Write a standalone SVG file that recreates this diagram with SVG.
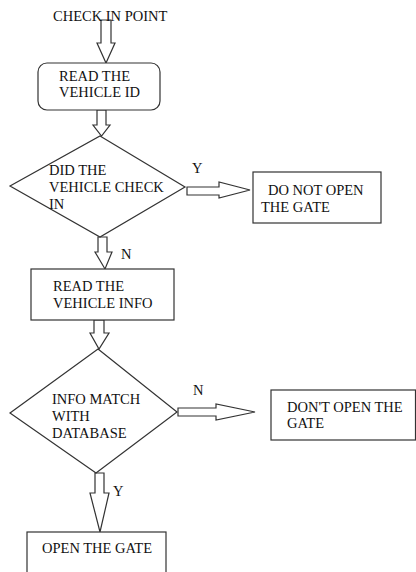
<svg xmlns="http://www.w3.org/2000/svg" width="416" height="572" viewBox="0 0 416 572">
<style>
text{font-family:"Liberation Serif","Times New Roman",serif;font-size:14.5px;fill:#111;}
.s{fill:#fff;stroke:#333;stroke-width:1.2;}
.a{fill:#fff;stroke:#333;stroke-width:1.2;stroke-linejoin:miter;}
</style>
<rect width="416" height="572" fill="#fff"/>
<g id="connectors">
<polygon class="a" points="101,20 111,20 111,43 115,43 106,63 97,43 101,43"/>
<polygon class="a" points="97,110 106,110 106,125 110,125 101.5,136 93,125 97,125"/>
<polygon class="a" points="187,187 219,187 219,182 250,190 219,198 219,195 187,195"/>
<polygon class="a" points="98,237 107,237 107,252 112,252 105,269 95,252 98,252"/>
<polygon class="a" points="94,320 104,320 104,333 109,333 99,349 90,333 94,333"/>
<polygon class="a" points="178,408 216,408 216,404 255,412 216,420 216,416 178,416"/>
<polygon class="a" points="95,473 104,473 104,493 109,493 100,532 90,493 95,493"/>
</g>
<g id="start"><text x="53" y="21">CHECK IN POINT</text></g>
<g id="read-id">
<rect class="s" x="38" y="63" width="122" height="47" rx="9"/>
<text x="59" y="81">READ THE</text>
<text x="59" y="97">VEHICLE ID</text>
</g>
<g id="check-in">
<polygon class="s" points="100,136 185,187 100,237 10,186"/>
<text x="49" y="175">DID THE</text>
<text x="49" y="192">VEHICLE CHECK</text>
<text x="49" y="209">IN</text>
</g>
<g id="label-y1"><text x="192" y="173">Y</text></g>
<g id="no-open-1">
<rect class="s" x="253" y="172" width="128" height="51"/>
<text x="268" y="195">DO NOT OPEN</text>
<text x="261" y="212">THE GATE</text>
</g>
<g id="label-n1"><text x="121" y="259">N</text></g>
<g id="read-info">
<rect class="s" x="31" y="269" width="143" height="51"/>
<text x="53" y="291">READ THE</text>
<text x="53" y="308">VEHICLE INFO</text>
</g>
<g id="match">
<polygon class="s" points="98,349 177,412 96,473 10,413"/>
<text x="52" y="404">INFO MATCH</text>
<text x="52" y="421">WITH</text>
<text x="52" y="438">DATABASE</text>
</g>
<g id="label-n2"><text x="193" y="395">N</text></g>
<g id="no-open-2">
<rect class="s" x="271" y="390" width="144.5" height="50"/>
<text x="287" y="412">DON'T OPEN THE</text>
<text x="287" y="428">GATE</text>
</g>
<g id="label-y2"><text x="113" y="496">Y</text></g>
<g id="open">
<rect class="s" x="27" y="532" width="139" height="50"/>
<text x="42" y="553">OPEN THE GATE</text>
</g>
</svg>
